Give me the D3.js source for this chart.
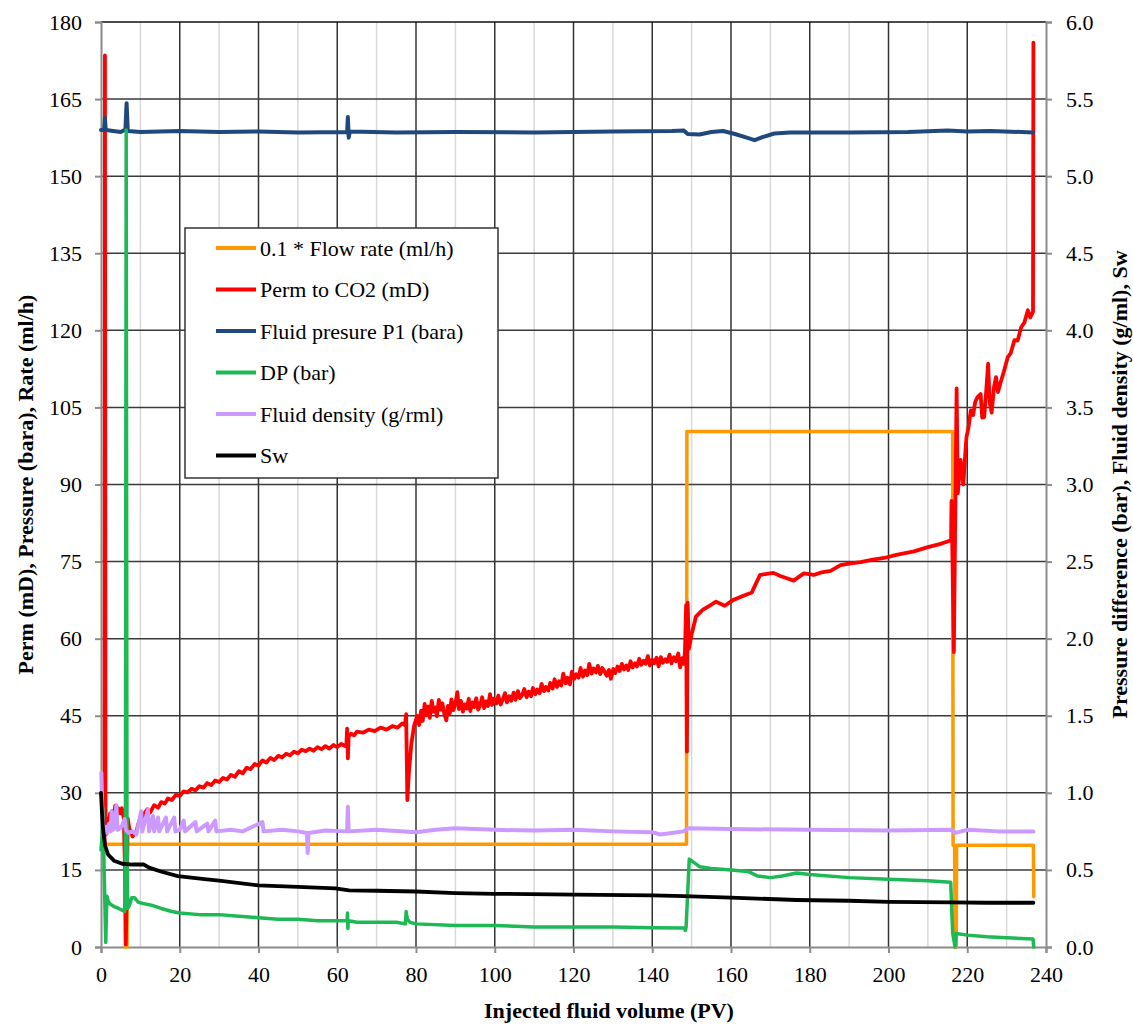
<!DOCTYPE html>
<html>
<head>
<meta charset="utf-8">
<script src="https://cdn.jsdelivr.net/npm/d3@7.9.0/dist/d3.min.js"></script>
<style>
  body { margin: 0; background: #fff; }
  svg { display: block; font-family: "Liberation Serif", "Times New Roman", serif; }
</style>
</head>
<body>
<svg id="chart" width="1133" height="1026"></svg>
<script>
// ---- data (PV, value) ----
const flowRate = [ // 0.1 * flow rate (ml/h), left axis
  [0.6, 20], [6.1, 20], [6.2, 0], [6.6, 0], [6.7, 20], [148.7, 20], [148.8, 100.3],
  [216.3, 100.3], [216.4, 19.8], [216.8, 19.8], [216.9, 0], [217.2, 0], [217.3, 19.8],
  [236.8, 19.8], [236.9, 9.8]
];

const permCO2 = [ // mD, left axis
  [0.9, 20], [1.0, 173.5], [1.15, 24], [1.4, 22], [1.7, 25], [2.0, 23], [2.3, 26], [2.6, 24],
  [2.9, 26.5], [3.3, 25], [3.6, 27.5], [4.0, 26], [4.4, 27], [4.8, 26], [5.3, 27], [5.8, 25],
  [6.1, 15], [6.3, 0.5], [6.5, 10], [6.8, 25], [7.2, 23], [7.6, 22.5], [8.0, 21.5], [8.5, 22],
  [9.0, 22.5], [9.5, 24], [10, 25], [10.5, 24.3], [11, 26], [11.8, 26.8], [12.5, 26.2],
  [13.5, 27.6], [14.5, 27.1], [15.3, 28.2], [16.2, 27.9], [17, 28.9], [18, 28.6], [19, 29.6],
  [20, 29.4], [21, 30.3], [22, 30.1], [23, 30.8], [24, 30.5], [25, 31.3], [26, 31], [27, 31.9],
  [28, 31.5], [29, 32.4], [30, 32.1], [31, 32.9], [32, 32.6], [33, 33.5], [34, 33.1], [35, 34.2],
  [36, 33.8], [37, 34.9], [38, 34.6], [39, 35.6], [40, 35.3], [41, 36.3], [42, 35.9], [43, 36.8],
  [44, 36.4], [45, 37.2], [46, 36.9], [47, 37.6], [48, 37.3], [49, 38], [50, 37.7], [51, 38.4],
  [52, 38.1], [53, 38.6], [54, 38.2], [55, 38.9], [56, 38.5], [57, 39.1], [58, 38.6], [59, 39.3],
  [60, 38.9], [61, 39.5], [62.3, 39], [62.5, 42.5], [62.7, 36.7], [62.9, 41], [63.5, 41.5],
  [64.3, 41.2], [65, 41.9], [66.5, 41.7], [68, 42.3], [69.5, 42], [71, 42.7], [72.5, 42.3],
  [74, 43], [75.3, 42.7], [76.5, 43.5], [77.2, 43.2], [77.5, 45.3], [77.8, 28.6], [78.2, 34],
  [78.8, 39.4], [79.5, 43], [80.3, 45], [80.8, 43.2], [81.3, 46], [81.7, 44], [82.2, 47.3],
  [82.6, 45.1], [83.1, 46.8], [83.5, 44.6], [84.0, 47.9], [84.4, 45.8], [84.9, 46.6], [85.3, 44.9],
  [85.8, 48.1], [86.3, 46.2], [86.7, 47.4], [87.2, 45.3], [87.7, 44.1], [88.1, 46.9], [88.6, 45.5],
  [89.0, 48.2], [89.5, 46.1], [90.0, 47.3], [90.5, 49.6], [90.9, 46.3], [91.4, 47.9], [91.9, 45.8],
  [92.4, 47.2], [92.9, 46.4], [93.4, 48.3], [93.8, 45.9], [94.3, 47.6], [94.8, 46.7], [95.3, 48.4],
  [95.8, 46.2], [96.3, 47.1], [96.8, 48.6], [97.3, 46.5], [97.8, 47.8], [98.3, 46.9], [98.8, 49.2],
  [99.3, 47.1], [99.8, 48.3], [100.4, 47.4], [100.9, 48.9], [101.5, 47.2], [102, 48.1],
  [102.6, 49.4], [103.1, 47.6], [103.7, 48.8], [104.2, 47.9], [104.8, 49.5], [105.3, 48.1],
  [105.9, 49.8], [106.4, 48.4], [107, 49.1], [107.5, 50.2], [108.1, 48.6], [108.6, 49.7],
  [109.2, 48.8], [109.7, 50.4], [110.3, 49.2], [110.8, 50.1], [111.4, 49.4], [111.9, 51.2],
  [112.5, 49.8], [113, 50.6], [113.6, 49.9], [114.1, 51.4], [114.7, 50.3], [115.2, 52.1],
  [115.8, 50.6], [116.3, 51.7], [116.9, 50.9], [117.4, 53.2], [118, 51.3], [118.5, 52.4],
  [119.1, 51.1], [119.6, 53.6], [120.2, 52.2], [120.7, 53.1], [121.3, 52.4], [121.8, 54.3],
  [122.4, 52.6], [122.9, 53.8], [123.5, 52.9], [124, 55.1], [124.6, 53.2], [125.1, 54.2],
  [125.7, 53.4], [126.2, 54.7], [126.8, 53.1], [127.3, 54.3], [127.9, 53.6], [128.4, 52.8],
  [129, 53.9], [129.5, 52.2], [130.1, 54.1], [130.6, 53.3], [131.2, 54.6], [131.7, 53.7],
  [132.3, 55.1], [132.8, 54], [133.4, 54.8], [133.9, 53.9], [134.5, 55.6], [135, 54.4],
  [135.6, 55.2], [136.1, 54.6], [136.7, 56.1], [137.2, 54.9], [137.8, 55.7], [138.3, 55.1],
  [138.9, 56.6], [139.4, 54.8], [140, 55.9], [140.5, 55.2], [141.1, 56.3], [141.6, 54.6],
  [142.2, 56.4], [142.7, 55.3], [143.3, 56], [143.8, 55.5], [144.4, 56.9], [144.9, 55.2],
  [145.5, 56.4], [146, 55.6], [146.6, 57.1], [147.1, 54.4], [147.6, 56.2], [148.0, 55.1],
  [148.3, 57.3], [148.6, 66.5], [148.8, 38], [149.0, 67], [149.3, 58], [149.9, 60.5],
  [151.1, 64.3], [152.8, 65.6], [154.5, 66.4], [156.2, 67.2], [158.4, 66.4], [160.5, 67.5],
  [163, 68.3], [165.3, 69], [166.5, 71], [167.4, 72.4], [170.8, 72.8], [172.5, 72.2], [174, 71.8],
  [175.9, 71.3], [178.5, 72.7], [181, 72.4], [183, 72.9], [185.3, 73.2], [187.8, 74.3],
  [190, 74.6], [192.9, 74.9], [196, 75.4], [198.9, 75.7], [202, 76.3], [206.5, 77], [210, 77.8],
  [213, 78.4], [215.4, 79], [215.9, 79.3], [216.0, 86.8], [216.2, 78], [216.6, 57.4], [216.9, 80],
  [217.3, 108.7], [217.6, 88.3], [218.3, 94.8], [219, 90], [219.5, 96], [219.8, 99.2],
  [220.3, 101], [220.9, 104.4], [221.5, 103.5], [222, 106], [222.6, 107], [223.4, 107.6],
  [223.8, 103], [224.3, 103.1], [224.8, 108], [225.3, 113.5], [225.7, 106], [226.2, 104],
  [226.8, 109], [227.3, 110.9], [227.8, 108], [228.6, 110.2], [229.3, 112], [230.3, 114.8],
  [231, 115.5], [232, 118.1], [232.8, 118], [233.7, 120.6], [234.5, 121.5], [235.4, 123.9],
  [236, 122.5], [236.7, 123.6], [236.8, 176]
];

const pressureP1 = [ // bara, left axis
  [0, 159], [0.8, 159], [1.0, 161.3], [1.2, 159], [5.0, 158.6], [5.5, 158.8], [6.2, 159],
  [6.5, 164.2], [6.8, 158.8], [10, 158.6], [20, 158.8], [30, 158.6], [40, 158.7], [50, 158.5],
  [62.5, 158.6], [62.7, 161.5], [62.9, 157.5], [63.2, 158.7], [75, 158.5], [90, 158.6],
  [110, 158.5], [130, 158.7], [145, 158.8], [148, 158.9], [149, 158.2], [152, 158.1],
  [155, 158.6], [158, 158.8], [161, 158.2], [164, 157.5], [166, 157.0], [168, 157.6],
  [171, 158.3], [175, 158.5], [190, 158.5], [205, 158.6], [215, 158.9], [220, 158.7],
  [226, 158.8], [236.8, 158.5]
];

const diffPressure = [ // bar, right axis
  [0, 0.63], [0.3, 0.73], [0.5, 0.90], [0.8, 0.50], [1.2, 0.03], [1.5, 0.33], [1.8, 0.30],
  [2.2, 0.28], [3.5, 0.26], [4.5, 0.25], [6.0, 0.23], [6.2, 0.67], [6.4, 5.30], [6.6, 0.67],
  [6.8, 0.25], [7.2, 0.27], [7.8, 0.32], [8.5, 0.32], [9.5, 0.29], [11, 0.28], [13, 0.27],
  [15.3, 0.25], [18, 0.23], [20, 0.22], [25, 0.21], [30, 0.21], [35, 0.20], [40, 0.19],
  [45, 0.18], [50, 0.18], [55, 0.17], [60, 0.17], [62.5, 0.17], [62.6, 0.22], [62.7, 0.12],
  [62.8, 0.17], [65, 0.16], [70, 0.16], [75, 0.16], [77.3, 0.15], [77.5, 0.23], [77.8, 0.18],
  [78.5, 0.16], [80, 0.15], [90, 0.14], [100, 0.14], [110, 0.13], [120, 0.13], [130, 0.13],
  [140, 0.125], [148.2, 0.123], [148.4, 0.107], [148.6, 0.13], [149.4, 0.57], [152.1, 0.52],
  [155, 0.51], [160, 0.50], [164.3, 0.49], [166.8, 0.46], [170, 0.45], [173, 0.46],
  [176.7, 0.48], [180, 0.47], [190, 0.45], [200, 0.44], [210, 0.43], [215.8, 0.42],
  [216.3, 0.09], [216.9, 0.0], [217.2, 0.087], [220, 0.077], [225, 0.067], [230, 0.06],
  [236.7, 0.052], [236.9, 0]
];

const fluidDensity = [ // g/ml, right axis
  [0.1, 1.13], [0.4, 0.80], [0.8, 0.76], [1.2, 0.78], [1.6, 0.74], [2.0, 0.80], [2.4, 0.75],
  [2.7, 0.88], [3.0, 0.76], [3.5, 0.78], [3.9, 0.92], [4.2, 0.76], [4.8, 0.77], [5.4, 0.79],
  [6.0, 0.83], [6.3, 0.76], [7, 0.74], [8, 0.75], [9, 0.73], [10.2, 0.88], [10.5, 0.75],
  [11.9, 0.89], [12.2, 0.75], [13.2, 0.85], [13.5, 0.75], [14.5, 0.84], [14.8, 0.75],
  [16.5, 0.84], [16.8, 0.75], [18.6, 0.84], [18.9, 0.75], [20, 0.76], [21, 0.82], [21.3, 0.75],
  [24, 0.81], [24.3, 0.75], [27, 0.80], [27.3, 0.75], [29, 0.82], [29.3, 0.75], [33, 0.76],
  [36, 0.75], [41, 0.81], [41.3, 0.75], [46, 0.76], [50, 0.75], [52.3, 0.74], [52.5, 0.61],
  [52.7, 0.74], [57, 0.755], [62.5, 0.75], [62.7, 0.91], [62.9, 0.75], [70, 0.76], [80, 0.745],
  [85, 0.76], [90, 0.77], [100, 0.76], [110, 0.755], [120, 0.76], [130, 0.75], [140, 0.745],
  [142, 0.73], [145, 0.74], [148, 0.75], [149, 0.77], [160, 0.765], [180, 0.76], [200, 0.755],
  [216, 0.76], [217, 0.74], [220, 0.76], [228, 0.75], [236.8, 0.75]
];

const satWater = [ // Sw, right axis
  [0, 1.0], [0.3, 0.85], [0.5, 0.77], [1.0, 0.66], [1.8, 0.60], [3.3, 0.56], [5.4, 0.54],
  [8, 0.535], [10.9, 0.535], [12.2, 0.515], [15.2, 0.49], [19.5, 0.46], [26.3, 0.44], [30, 0.43],
  [40, 0.40], [50, 0.39], [59.5, 0.38], [63, 0.367], [70, 0.365], [80, 0.36], [90, 0.35],
  [100, 0.345], [120, 0.34], [140, 0.335], [148, 0.33], [160, 0.32], [176.7, 0.305], [190, 0.30],
  [200, 0.293], [216, 0.29], [225, 0.287], [236.8, 0.287]
];

const xTicks = d3.range(0, 241, 20);
const leftTicks = d3.range(0, 181, 15);
const rightTicks = d3.range(0, 6.01, 0.5);

const seriesNames = ['0.1 * Flow rate (ml/h)', 'Perm to CO2 (mD)', 'Fluid presure P1 (bara)',
  'DP (bar)', 'Fluid density (g/rml)', 'Sw'];
const seriesColors = ['#ff9900', '#ff0000', '#1f497d', '#1db954', '#cc99ff', '#000000'];

// ---- layout ----
const svg = d3.select('#chart');
const plot = { left: 101, right: 1046, top: 22, bottom: 947 };
const fontFamily = '"Liberation Serif", "Times New Roman", serif';

const x = d3.scaleLinear().domain([0, 240]).range([plot.left, plot.right]);
const yL = d3.scaleLinear().domain([0, 180]).range([plot.bottom, plot.top]);
const yR = d3.scaleLinear().domain([0, 6]).range([plot.bottom, plot.top]);

// grid
const grid = svg.append('g');
grid.selectAll('line.minor')
  .data(d3.range(10, 240, 20))
  .enter().append('line')
    .attr('x1', d => x(d)).attr('x2', d => x(d))
    .attr('y1', plot.top).attr('y2', plot.bottom)
    .attr('stroke', '#d9d9d9').attr('stroke-width', 1.5);
grid.selectAll('line.vmajor')
  .data(xTicks.slice(1, -1))
  .enter().append('line')
    .attr('x1', d => x(d)).attr('x2', d => x(d))
    .attr('y1', plot.top).attr('y2', plot.bottom)
    .attr('stroke', '#333').attr('stroke-width', 1.5);
grid.selectAll('line.hmajor')
  .data(leftTicks.slice(1))
  .enter().append('line')
    .attr('x1', plot.left).attr('x2', plot.right)
    .attr('y1', d => yL(d)).attr('y2', d => yL(d))
    .attr('stroke', d => d === 180 ? '#111' : '#3a3a3a').attr('stroke-width', 1.5);

// axes
const axisStyle = g => {
  g.select('.domain').attr('stroke', '#8c8c8c').attr('stroke-width', 2);
  g.selectAll('.tick line').attr('stroke', '#8c8c8c').attr('stroke-width', 2);
  g.selectAll('text').attr('font-size', 22).attr('fill', '#000').attr('font-family', fontFamily);
};

svg.append('g')
  .attr('transform', `translate(0,${plot.bottom})`)
  .call(d3.axisBottom(x).tickValues(xTicks).tickSizeOuter(0).tickSize(6).tickPadding(13))
  .call(axisStyle);

svg.append('g')
  .attr('transform', `translate(${plot.left},0)`)
  .call(d3.axisLeft(yL).tickValues(leftTicks).tickSizeOuter(0).tickSize(6).tickPadding(13))
  .call(axisStyle);

svg.append('g')
  .attr('transform', `translate(${plot.right},0)`)
  .call(d3.axisRight(yR).tickValues(rightTicks).tickFormat(d3.format('.1f'))
    .tickSizeOuter(0).tickSize(6).tickPadding(14))
  .call(axisStyle);

// series
const lineL = d3.line().x(d => x(d[0])).y(d => yL(d[1]));
const lineR = d3.line().x(d => x(d[0])).y(d => yR(d[1]));

const seriesData = [
  { data: flowRate, gen: lineL, w: 3.5 },
  { data: permCO2, gen: lineL, w: 3.8 },
  { data: pressureP1, gen: lineL, w: 4 },
  { data: diffPressure, gen: lineR, w: 3.5 },
  { data: fluidDensity, gen: lineR, w: 4 },
  { data: satWater, gen: lineR, w: 3.8 }
];

svg.append('g')
  .selectAll('path')
  .data(seriesData)
  .enter().append('path')
    .attr('d', d => d.gen(d.data))
    .attr('fill', 'none')
    .attr('stroke', (d, i) => seriesColors[i])
    .attr('stroke-width', d => d.w)
    .attr('stroke-linejoin', 'round')
    .attr('stroke-linecap', 'round');

// legend
const legend = svg.append('g').attr('transform', 'translate(185,228)');
legend.append('rect')
  .attr('width', 313).attr('height', 250)
  .attr('fill', '#fff').attr('stroke', '#333').attr('stroke-width', 1.5);

const items = legend.selectAll('g.item')
  .data(seriesNames)
  .enter().append('g')
    .attr('transform', (d, i) => `translate(0,${20 + i * 41.5})`);
items.append('line')
  .attr('x1', 31).attr('x2', 71)
  .attr('stroke', (d, i) => seriesColors[i]).attr('stroke-width', 4);
items.append('text')
  .attr('x', 75).attr('dy', '0.35em')
  .attr('font-size', 22).attr('font-family', fontFamily)
  .text(d => d);

// axis titles
svg.append('text')
  .attr('transform', `translate(33,${(plot.top + plot.bottom) / 2}) rotate(-90)`)
  .attr('text-anchor', 'middle')
  .attr('font-weight', 'bold').attr('font-size', 22).attr('font-family', fontFamily)
  .text('Perm (mD), Pressure (bara), Rate (ml/h)');

svg.append('text')
  .attr('transform', `translate(1127,${(plot.top + plot.bottom) / 2}) rotate(-90)`)
  .attr('text-anchor', 'middle')
  .attr('font-weight', 'bold').attr('font-size', 22).attr('font-family', fontFamily)
  .text('Pressure difference (bar), Fluid density (g/ml), Sw');

svg.append('text')
  .attr('x', 609).attr('y', 1018)
  .attr('text-anchor', 'middle')
  .attr('font-weight', 'bold').attr('font-size', 22).attr('font-family', fontFamily)
  .text('Injected fluid volume (PV)');
</script>
</body>
</html>
